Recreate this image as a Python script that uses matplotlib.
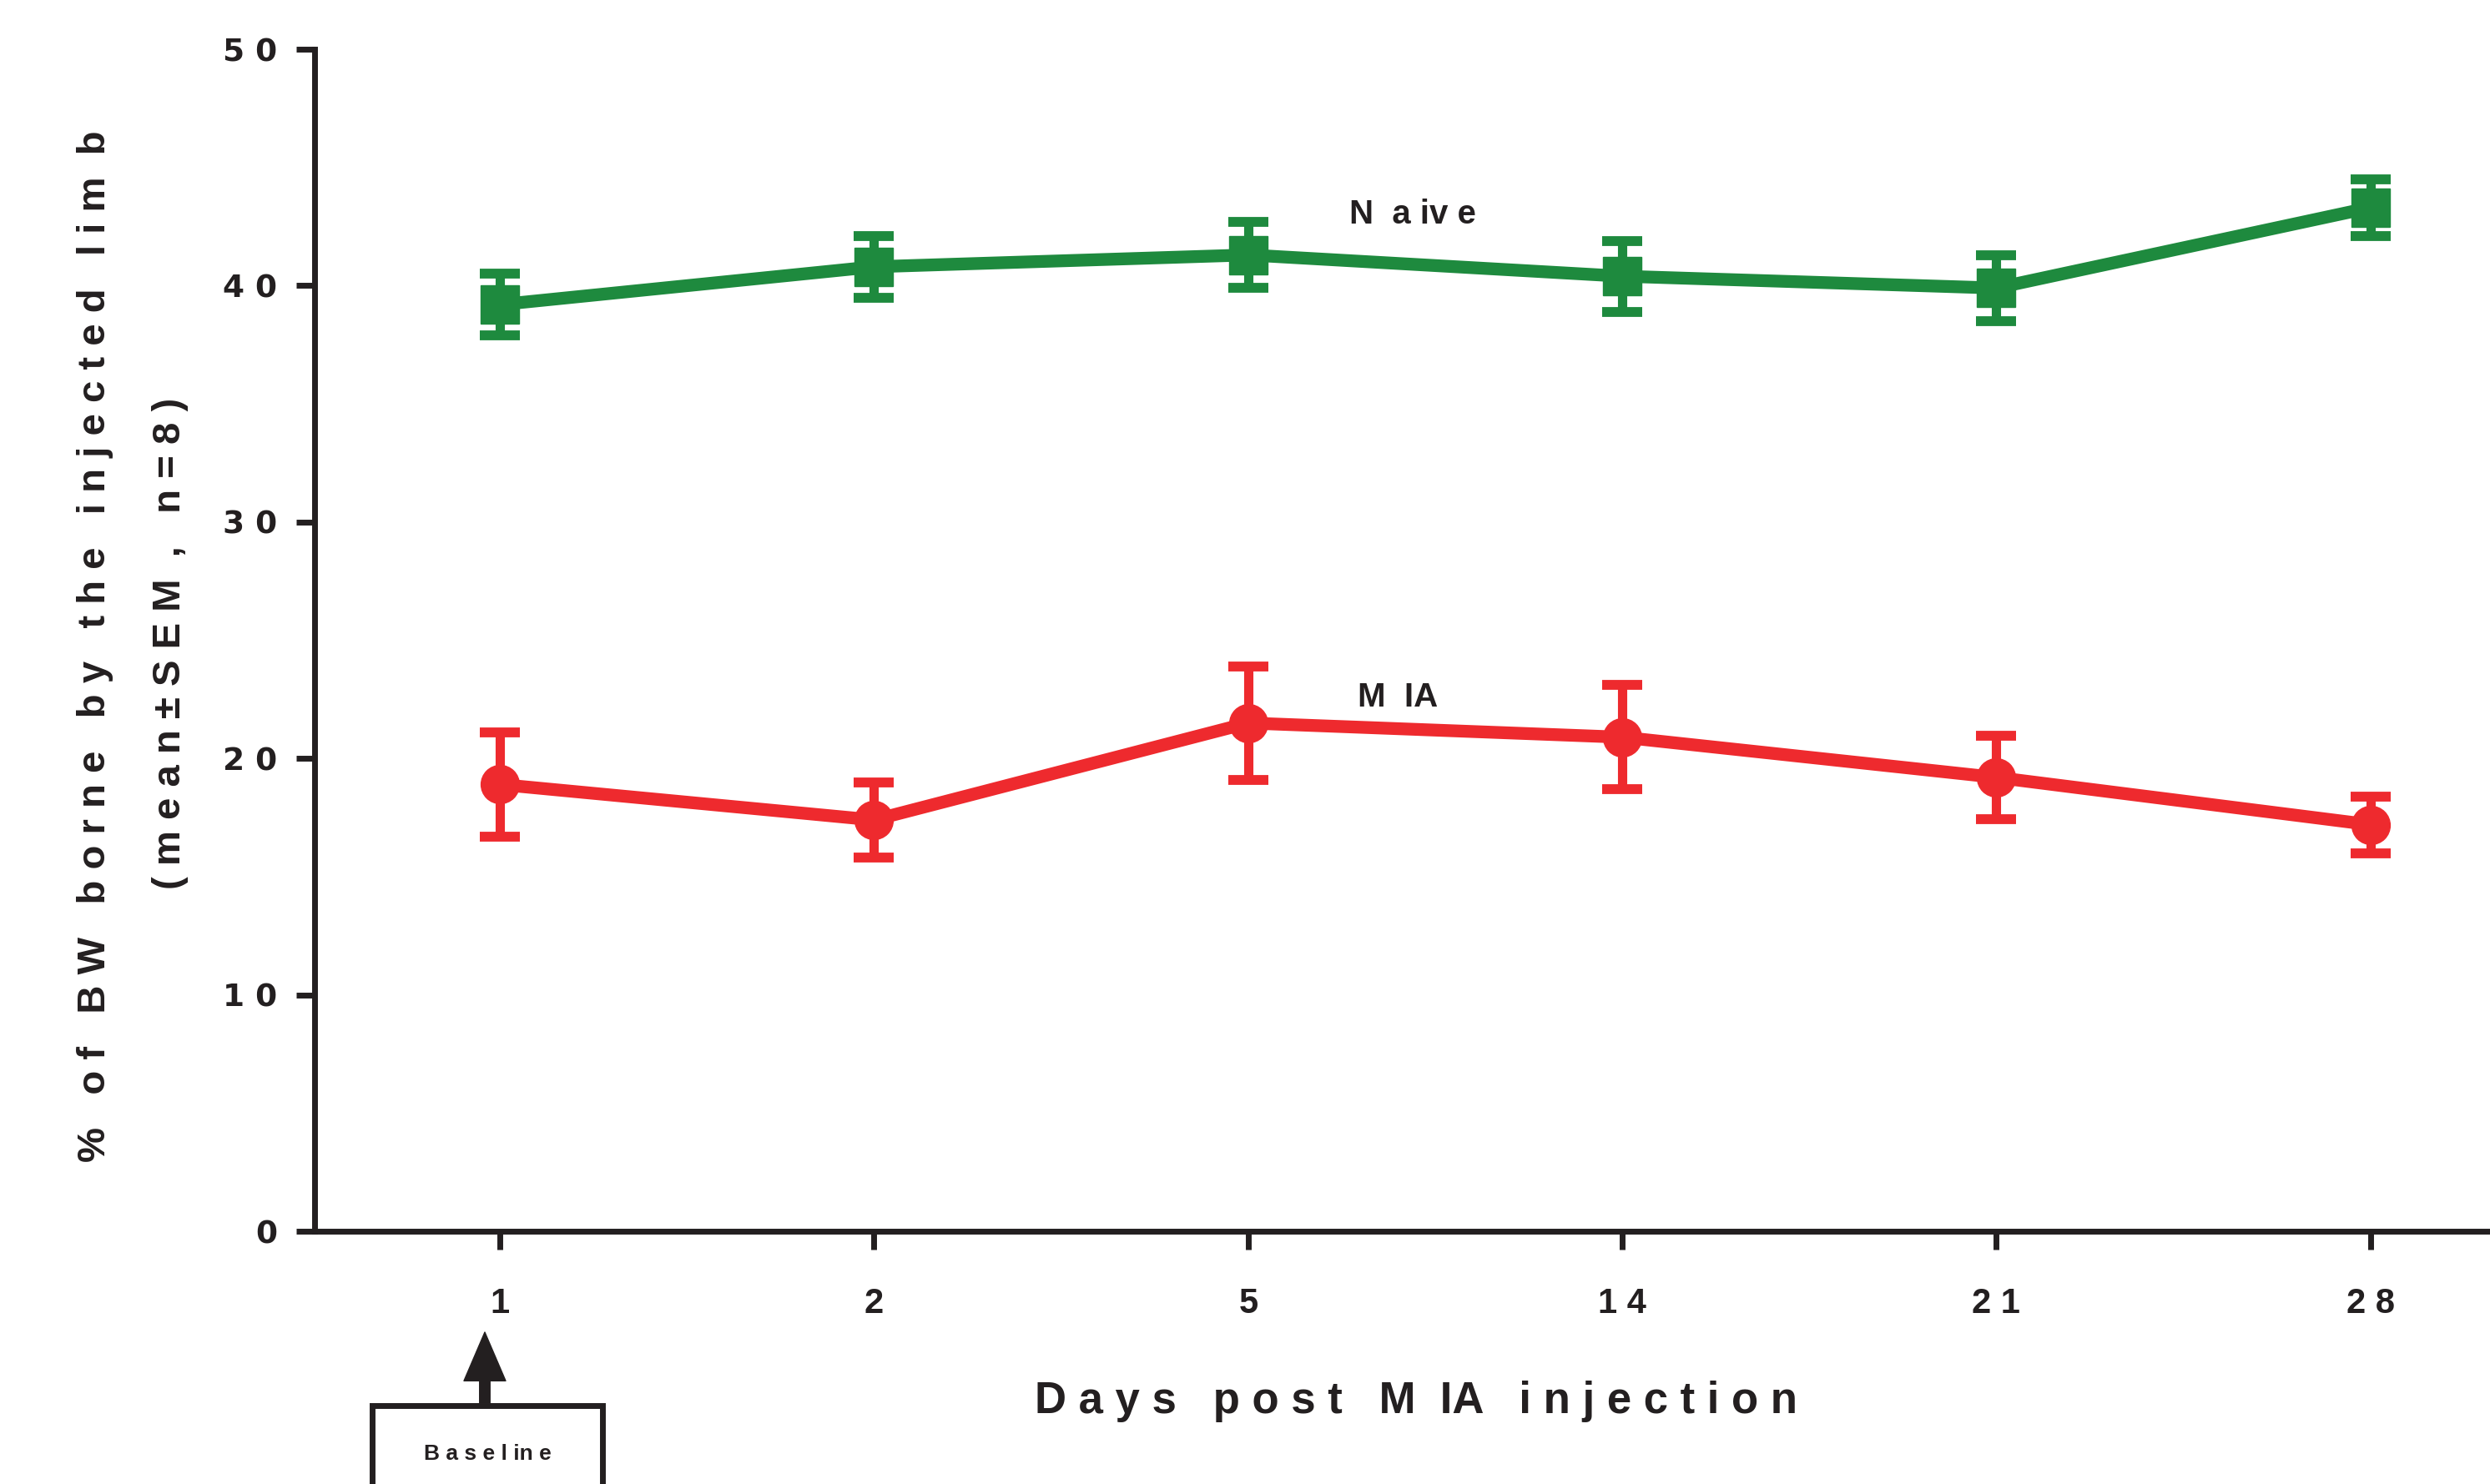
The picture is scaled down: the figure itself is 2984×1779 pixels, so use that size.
import matplotlib
matplotlib.use('Agg')
import matplotlib.pyplot as plt
from matplotlib.patches import Rectangle

# Data
days = ["1", "2", "5", "14", "21", "28"]
naive_mean = [39.2, 40.8, 41.3, 40.4, 39.9, 43.3]
naive_sem = [1.3, 1.3, 1.4, 1.5, 1.4, 1.2]
mia_mean = [18.9, 17.4, 21.5, 20.9, 19.2, 17.2]
mia_sem = [2.2, 1.6, 2.4, 2.2, 1.75, 1.2]
yticks = [0, 10, 20, 30, 40, 50]

green = '#1e8a3e'
red = '#ee2a2e'
ink = '#231f20'
narrow = ['Liberation Sans Narrow', 'Liberation Sans', 'DejaVu Sans']


def spaced(s):
    return ' '.join(s)


fig = plt.figure(figsize=(29.84, 17.79), dpi=100)
ax = fig.add_axes([0.1263, 0.1703, 1 - 0.1263, 0.9668 - 0.1703])

x = list(range(len(days)))
ax.errorbar(x, naive_mean, yerr=naive_sem, fmt='s-', color=green, lw=11,
            ms=33, elinewidth=8, capsize=17, capthick=8.5, zorder=3)
ax.errorbar(x, mia_mean, yerr=mia_sem, fmt='o-', color=red, lw=11,
            ms=33, elinewidth=8, capsize=17, capthick=8.5, zorder=3)

ax.set_xlim(-0.496, 5.32)
ax.set_ylim(0, 50)

for s in ['top', 'right']:
    ax.spines[s].set_visible(False)
for s in ['left', 'bottom']:
    ax.spines[s].set_linewidth(5)
    ax.spines[s].set_color(ink)

ax.set_xticks(x)
ax.set_xticklabels([spaced(d) for d in days], fontfamily=narrow,
                   fontweight='bold', fontsize=30, color=ink)
ax.set_yticks(yticks)
ax.set_yticklabels([spaced(str(v)) for v in yticks], fontfamily='DejaVu Sans',
                   fontweight='bold', fontsize=27, color=ink)
ax.tick_params(axis='x', length=16, width=5, color=ink, pad=32)
ax.tick_params(axis='y', length=16, width=5, color=ink, pad=16)

# series labels
ax.text(2.44, 43.0, 'N  a iv e', fontfamily=narrow, fontweight='bold',
        fontsize=29, color=ink, ha='center', va='center')
ax.text(2.4, 22.6, 'M  IA', fontfamily=narrow, fontweight='bold',
        fontsize=29, color=ink, ha='center', va='center')

# axis titles
fig.text(0.5687, 0.0557, 'D a y s   p o s t   M  IA   i n j e c t i o n',
         fontfamily=narrow, fontweight='bold', fontsize=38, color=ink,
         ha='center', va='center')
fig.text(0.0382, 0.5645,
         '%   o f   B W   b o r n e   b y   t h e   i n j e c t e d   l i m  b',
         fontfamily=narrow, fontweight='bold', fontsize=34, color=ink,
         rotation=90, ha='center', va='center')
fig.text(0.0684, 0.5665, '( m e a n \u00b1 S E M  ,   n = 8 )',
         fontfamily=narrow, fontweight='bold', fontsize=34, color=ink,
         rotation=90, ha='center', va='center')

# baseline marker
fig.add_artist(Rectangle((0.1495, -0.05), 0.0925, 0.1028,
                         transform=fig.transFigure, fill=False,
                         edgecolor=ink, lw=5, clip_on=False))
ax.annotate('', xy=(0.1947, 0.1023), xycoords='figure fraction',
            xytext=(0.1947, 0.0545), textcoords='figure fraction',
            arrowprops=dict(width=9, headwidth=36, headlength=42,
                            facecolor=ink, edgecolor=ink, shrink=0))
fig.text(0.1957, 0.0202, 'B a s e l in e', fontfamily='Liberation Sans',
         fontweight='bold', fontsize=19, color=ink, ha='center', va='center')

fig.savefig('out.png', dpi=100)
